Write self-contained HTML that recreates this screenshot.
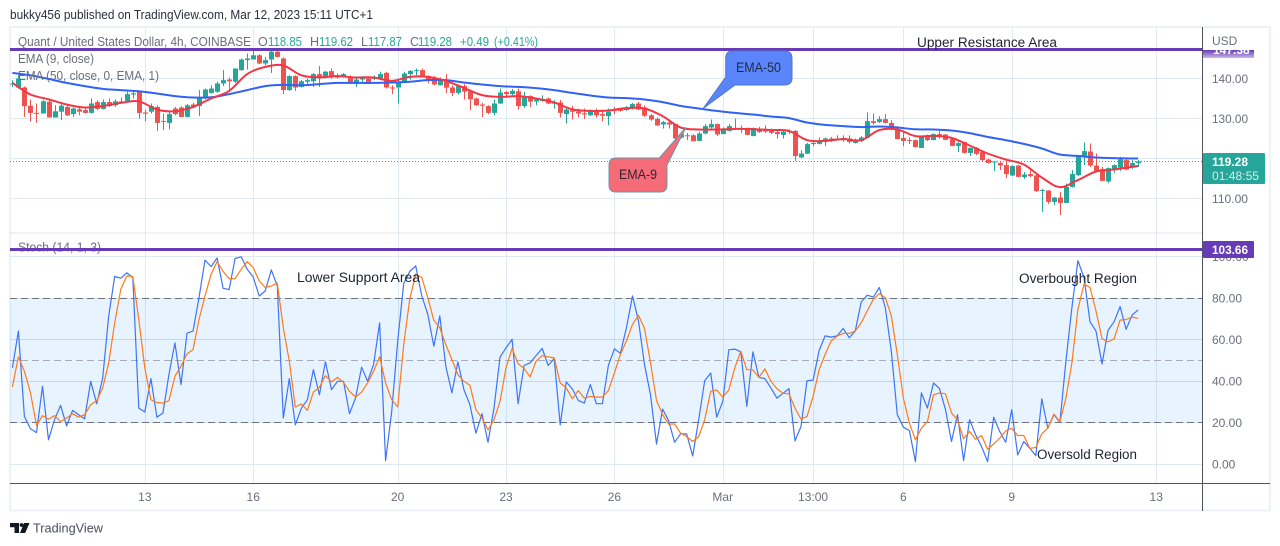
<!DOCTYPE html>
<html lang="en">
<head>
<meta charset="utf-8">
<title>Quant / United States Dollar chart</title>
<style>
html,body{margin:0;padding:0;background:#fff;width:1280px;height:546px;overflow:hidden}
svg{display:block;font-family:"Liberation Sans",sans-serif}
</style>
</head>
<body>
<svg id="chart" xmlns="http://www.w3.org/2000/svg" width="1280" height="546" viewBox="0 0 1280 546">
  <defs>
    <clipPath id="topLabelClip"><rect x="1202" y="50" width="53" height="8"/></clipPath>
    <linearGradient id="topLabelFade" x1="0" y1="0" x2="0" y2="1">
      <stop offset="0" stop-color="#673ab7"/>
      <stop offset="1" stop-color="#c9b8e6"/>
    </linearGradient>
  </defs>
  <rect x="0" y="0" width="1280" height="546" fill="#ffffff"/>
  <text x="10" y="19" font-size="12.5" fill="#2a2e39" textLength="363" lengthAdjust="spacingAndGlyphs">bukky456 published on TradingView.com, Mar 12, 2023 15:11 UTC+1</text>
  <rect x="10" y="27" width="1260" height="483.5" fill="none" stroke="#eef1f6" stroke-width="2"/>

  <g id="grid"></g>
  <rect x="10" y="232.5" width="1192" height="1" fill="#e3e6ec"/>
  <g id="stochBand"></g>
  <g id="priceLine"></g>
  <g id="candles"></g>
  <g id="emaLines"></g>
  <g id="stochLines"></g>

  <text x="18" y="46" font-size="12.5" fill="#6b6e79" textLength="233" lengthAdjust="spacingAndGlyphs">Quant / United States Dollar, 4h, COINBASE</text>
  <g font-size="12.5">
    <text x="258" y="46" fill="#6b6e79">O</text>
    <text x="268" y="46" fill="#26a69a" textLength="34" lengthAdjust="spacingAndGlyphs">118.85</text>
    <text x="310" y="46" fill="#6b6e79">H</text>
    <text x="319" y="46" fill="#26a69a" textLength="34" lengthAdjust="spacingAndGlyphs">119.62</text>
    <text x="361" y="46" fill="#6b6e79">L</text>
    <text x="368" y="46" fill="#26a69a" textLength="34" lengthAdjust="spacingAndGlyphs">117.87</text>
    <text x="410" y="46" fill="#6b6e79">C</text>
    <text x="418" y="46" fill="#26a69a" textLength="34" lengthAdjust="spacingAndGlyphs">119.28</text>
    <text x="460" y="46" fill="#26a69a" textLength="29" lengthAdjust="spacingAndGlyphs">+0.49</text>
    <text x="494" y="46" fill="#26a69a" textLength="44" lengthAdjust="spacingAndGlyphs">(+0.41%)</text>
  </g>
  <text x="18" y="63" font-size="12.5" fill="#6b6e79" textLength="76" lengthAdjust="spacingAndGlyphs">EMA (9, close)</text>
  <text x="18" y="80" font-size="12.5" fill="#6b6e79" textLength="141" lengthAdjust="spacingAndGlyphs">EMA (50, close, 0, EMA, 1)</text>
  <text x="18" y="251.5" font-size="12.5" fill="#6b6e79" textLength="83" lengthAdjust="spacingAndGlyphs">Stoch (14, 1, 3)</text>

  <rect x="10" y="48" width="1192.5" height="3" fill="#673ab7"/>
  <rect x="10" y="248" width="1192.5" height="3" fill="#673ab7"/>

  <text x="917" y="47" font-size="13.5" fill="#1f2330" textLength="140" lengthAdjust="spacingAndGlyphs">Upper Resistance Area</text>
  <text x="297" y="282" font-size="13.5" fill="#1f2330" textLength="123" lengthAdjust="spacingAndGlyphs">Lower Support Area</text>
  <text x="1019" y="283" font-size="13.5" fill="#1f2330" textLength="118" lengthAdjust="spacingAndGlyphs">Overbought Region</text>
  <text x="1037" y="459" font-size="13.5" fill="#1f2330" textLength="100" lengthAdjust="spacingAndGlyphs">Oversold Region</text>

  <g>
    <path d="M733,51 H784 Q792,51 792,58 V78 Q792,85 784,85 H735 L703.3,108.3 L725.7,77 V58 Q725.7,51 733,51 Z" fill="#5b85fb" stroke="#4b7ac4" stroke-width="1"/>
    <text x="736" y="72" font-size="13.5" fill="#1f2a44" textLength="45" lengthAdjust="spacingAndGlyphs">EMA-50</text>
  </g>
  <g>
    <path d="M616,158 H659.3 L686,127.3 L667,165 V185 Q667,192 660,192 H616 Q609,192 609,185 V165 Q609,158 616,158 Z" fill="#f66b78" stroke="#5f9aa8" stroke-width="1"/>
    <text x="619" y="179" font-size="13.5" fill="#3a2030" textLength="38" lengthAdjust="spacingAndGlyphs">EMA-9</text>
  </g>

  <rect x="1203" y="28" width="66" height="455" fill="#ffffff"/>
  <g id="axisLabels"></g>
  <rect x="1202" y="27" width="1" height="484" fill="#50535e"/>
  <rect x="10" y="483" width="1260" height="1" fill="#50535e"/>

  <text x="1212" y="45" font-size="12" fill="#6b6e79">USD</text>
  <rect x="1203" y="50" width="51" height="8" fill="url(#topLabelFade)"/>
  <text x="1213" y="54" font-size="12" font-weight="bold" fill="#ffffff" clip-path="url(#topLabelClip)">147.38</text>

  <rect x="1203" y="241" width="51" height="17" rx="1" fill="#673ab7"/>
  <text x="1212" y="254" font-size="12" font-weight="bold" fill="#ffffff" textLength="36" lengthAdjust="spacingAndGlyphs">103.66</text>

  <rect x="1203" y="153" width="62" height="31" rx="1" fill="#26a69a"/>
  <text x="1212" y="166" font-size="12" font-weight="bold" fill="#ffffff" textLength="36" lengthAdjust="spacingAndGlyphs">119.28</text>
  <text x="1212" y="180" font-size="12" fill="#d4eeeb" textLength="47" lengthAdjust="spacingAndGlyphs">01:48:55</text>

  <g>
    <path d="M10,523 H19 V533 H14.5 V527.2 H10 Z M24,523 H29.5 L25.2,533 H20 Z" fill="#131722"/>
    <circle cx="21.5" cy="525" r="1.9" fill="#131722"/>
    <text x="33" y="532.5" font-size="13" fill="#4a4e59" textLength="70" lengthAdjust="spacingAndGlyphs">TradingView</text>
  </g>
</svg>

<script>
// ---- chart data ----
const opens = [
138.58,137.75,137.75,133.2,131.4,131.25,134.2,130.25,131.7,132.9,
131.1,132.3,132.1,131.4,134.1,132.4,134.1,133.3,134.3,134.4,
136,136.7,131.5,131.7,132.9,129.4,128.9,132.5,132.75,130.4,
133.5,133.1,135,136.4,136.7,138.75,139.75,139.2,142.1,144.6,
144.75,145.8,143.75,144.75,146.7,145,137.1,140.6,137.9,139.2,
139.3,141.1,140.25,141.85,140.25,140.6,140.4,138.6,139.75,140,
139.9,140,141.4,137.75,137.75,139.2,141.1,141.85,142.1,140.6,
140,138.3,139.75,137.75,136.4,138.1,136.8,135,133.5,133.1,
131.4,133.75,136.6,136.1,136.8,133.1,135.6,134.25,134.4,135,
133.75,134,131.1,132.1,131.75,131.3,130.8,131.9,131.1,130.6,
132.25,132.25,132.1,132.7,133.75,132.75,130.8,129.9,128.5,129,
128.6,125.25,125.8,125.8,124.4,126.25,127.75,128.6,126.1,126.9,
127.6,127.6,127.6,125.6,127.4,127.4,127.1,126.6,125.9,126.9,
126.9,120.25,121.2,123.9,123.65,124.15,125,124.75,125.15,125,
123.9,124.4,125.2,129.33,129.1,129.83,128.9,127.25,125.15,124.65,
124.6,122.65,125.65,124.6,126.1,126,124.85,123.15,124.1,121.4,
122.6,121.6,119.75,119,118.9,118.35,115.75,118.25,115.35,116.1,
115.75,111.9,112,109.15,110.25,108.9,112.9,115.85,120.6,121.75,
118.25,117.35,114.25,117.1,117.75,119.6,117.75,118.85];
const highs = [
139.58,140.83,138,134.75,133.75,134.6,135,133.3,133.75,133.3,
132.75,132.9,132.75,135,134.6,134.75,135,134.8,135.25,136.7,
136.9,136.9,132.2,133.75,133.3,131.25,131.7,132.9,133.1,133.6,
133.9,137.1,137.5,138.3,139.2,142.1,140.25,142.5,145,146.25,
147.5,146.1,145.4,147.1,147.5,145.25,140.8,140.8,139.6,140,
141.4,143.1,141.9,142.5,141.25,141.4,140.8,140.25,140.6,140.4,
140.8,141.7,141.7,138.3,139.6,141.7,142.1,142.5,142.5,140.8,
140.6,140.25,141.1,138.3,138.3,138.6,137.1,135.25,133.9,133.3,
134.75,137.5,136.9,137.4,137.5,136.7,135.8,135.25,135.8,135.25,
134.6,134.6,132.9,133.1,132.5,132.5,132.25,132.5,132.1,132.5,
132.9,132.5,133.1,133.9,134.1,133.3,131.1,130.25,129.4,129.75,
128.75,126.7,126.4,126.1,126.7,128.6,129.75,128.75,127.75,128.6,
130,128.3,127.75,127.75,127.9,128.3,127.5,127.1,127.1,127.25,
127.1,122.1,123.9,124.6,125.25,125.25,125.4,125.8,125.8,125.8,
125,125.6,131.5,131.25,130.6,131.1,129.6,128.1,126.65,125.25,
124.75,125.6,126,126.25,126.85,126.1,125,124.2,124.2,122.75,
122.9,121.9,120,119.4,119.4,119.4,118.35,118.35,116.65,117.1,
115.9,112.4,112.1,110.4,111.65,113.75,117.1,120.85,124,123.75,
121.25,117.9,117.75,118.5,120.4,120,119.6,119.62];
const lows = [
137.9,137.5,130.4,129.2,128.9,131.25,130.25,130.25,129.6,130.6,
130.4,130.8,131.25,131.25,132.1,132.25,132.9,132.9,133.75,134.2,
135,130,129.3,131.25,126.9,127.1,127.25,130.8,130.25,130.25,
132.5,130.6,134.75,136.25,136.4,138.1,136.7,138.9,141.9,142.25,
144.75,143.6,143.3,141.4,145.25,136.1,136.9,136.9,137.75,138.3,
137.9,137.9,140,140,140,140.25,138.6,137.9,139.2,138.75,
139.6,139.75,137.5,136.1,133.75,138.9,139.75,140.8,140.4,138.75,
138.3,138.3,136.4,135.6,136,134.75,132.1,133.1,130.4,131.1,
130.8,133.6,135.4,135.8,132.25,132.7,132.9,133.3,134.2,133.6,
132.5,130.25,128.75,129.75,130.25,129.9,130.6,130.25,129.3,128.3,
131.1,131.7,131.9,132.25,132.1,130.4,129.4,128.1,127.5,127.5,
124.75,125,124.6,124.3,124.3,126,127.5,125.6,126.1,126.75,
127.1,126.4,125.8,125.6,126.4,126.4,126.1,125,125,126.1,
119.4,120.1,121.1,123.1,123.5,123.1,124.15,124.6,124.15,123.75,
123.75,124.15,125.2,128.5,128.9,128.75,127.1,124.75,123.1,123.6,
122.75,122.6,124.35,124.6,125,124.6,123.1,121.6,121.25,120.65,
120.85,119.4,118.75,116.85,117.1,115.1,115.6,115.35,114.9,115.25,
111.65,106.65,108.65,108.35,105.85,108.9,112.75,115.6,118.35,117.9,
116.65,114.35,113.9,116.4,116.9,117.1,117.4,117.87];
const closes = [
138.75,140,133.08,131.4,131.25,134.3,130.25,131.8,133.2,130.8,
132.5,131.7,131.4,133.75,132.4,134.1,133.1,134.3,134.1,136.1,
136.3,131.4,131.2,133.1,128.9,129.2,131.1,131.1,130.4,133.3,
132.75,135.2,137.25,137.5,138.75,139.6,139.3,142.5,144.75,145,
145.8,143.75,144.6,146.7,145.4,137.1,140.6,137.75,139.3,139.6,
141.1,140,141.7,140.25,140.8,141.1,138.75,139.75,140.25,138.9,
140.25,141.1,137.75,137.5,139.2,141.25,141.9,142.1,140.6,139.6,
138.5,139.75,137.7,136.4,138.1,136.7,134.8,133.3,133.2,131.4,
133.75,136.5,136.1,136.9,133.1,135.25,134.2,134.75,134.9,133.75,
134.1,131.4,132.25,131.7,131.25,131,131.9,130.8,130.7,131.7,
131.9,131.9,132.75,133.6,132.25,130.7,129.75,128.25,129.1,128.5,
125,126.1,125.6,124.3,126.25,128.1,128.6,126,127.5,128.1,
127.3,127.3,125.9,127.6,126.6,126.75,126.4,126.1,126.7,126.7,
120.6,121.25,123.6,123.6,124.15,125,124.6,125,124.85,124.15,
124.6,125.25,129.33,128.9,129.83,128.9,127.25,124.85,124.4,124.4,
122.85,125.4,124.6,126.1,125.4,124.65,123.15,123.85,121.4,122.65,
121.15,119.6,118.9,119.25,118.25,116.1,118.1,115.4,116,115.6,
111.85,112.15,109.15,110.25,108.9,112.9,116.1,120.75,121.85,118.25,
116.9,114.4,117.6,118.35,119.75,117.25,118.85,119.28];

// EMA readings taken every third bar, final reading on the last bar
const emaStep = 3;
const ema50 = [
141.4,140.8,139.9,138.9,138.1,137.4,137.1,136.8,136.25,135.6,135.25,135.3,
136.1,137.1,138.1,138.4,138.3,138.6,138.9,138.9,138.9,139,139.2,139.6,
139.6,139,138.5,138.1,137.9,137.6,137.1,136.4,135.75,135.25,135.1,134.75,
134.1,133.15,132.5,131.9,131.4,131,130.5,130.1,129,128.4,128.1,
127.85,128,127.75,127.3,127.25,127,126.35,125.4,124.6,123.65,122.5,121,
120.65,120.25,120.1,120,120];
const ema9 = [
138.9,136,134.8,133.5,132.75,133.1,133.9,134.3,132.25,131.8,132.9,135,
136.9,141.1,142.9,143.25,140.8,140.3,140.6,140.25,140.25,139.4,140.4,140.4,
139.4,137.65,135.85,135.4,135.6,135,134,132.3,131.9,132,132.6,132.5,
130.6,127.75,127.25,127.25,127.4,127.35,127.1,126.9,124.6,124.4,124.85,
124.6,127.1,127.25,125.6,125.65,125.15,123.25,121.25,119.75,118.5,115.25,112.85,
114.6,116.75,117.25,117.9,118.15];
const lastPrice = 119.28;

const stochK = [
46.5,64.2,23.1,17.1,15.3,37.6,11.8,21.5,28.4,18.5,
26,23.9,21.9,40,29.2,41.6,71.5,90.5,89.7,92.3,
90,27.1,25.2,41.3,22.7,24.7,43.2,58.5,38.4,63.2,
64.2,80.3,98.4,95.3,99.4,84.8,84.2,99.2,100,94,
90.3,81.1,83.5,93.7,86,22.3,41.3,19,27.1,31.1,
45.6,33.5,49.4,36,40,40,24.4,31.9,46.8,40,
48.1,68.2,1.8,25.5,59.4,87.1,92.9,95.6,81.1,72.3,
56.9,71.5,47.3,34.4,49.4,36,28.7,15,24.4,10.6,
27.1,51.6,56.1,60.2,29.2,47.6,48.9,52.4,55.8,47.6,
51,19,39.7,36.3,30.8,29.5,38.4,29.2,29.2,47.7,
55.6,53.5,65.8,81.1,69,48.1,33.5,9.8,26.6,21,
10.6,14.7,14.7,4,21.5,40.3,44,22.7,30.3,55.2,
55.5,54.2,27.9,54.2,41.9,41.3,36.8,31.9,34.2,36.5,
11.3,18.2,40.3,40.6,54.8,61.9,61.3,61.9,65.5,61,
64.2,78.2,81.5,80.6,85.2,75.5,54.5,23.9,17.9,16.3,
1.3,34.4,27.1,39.2,36.5,26.3,11,23.9,1.8,21.5,
14.2,8.5,1.3,22.7,15.8,10.6,26.3,4.5,11,7.7,
4.2,31.5,17.4,23.9,20.3,49.7,75.5,98.1,90,68.7,
64.2,48.4,64.5,68.7,76,65,71.9,74.4];
const stochD = [
37.3,51.8,44.8,34.4,18.7,23.4,21.8,23.4,20.6,22.3,
24.4,22.7,23.9,28.7,30.6,36.8,48.9,68.2,84.4,90.8,
90.5,69.8,46.5,31.1,29.8,29.5,30.6,42.4,47.3,53.2,
55.3,69.8,81.1,91.6,97.7,92.9,89.5,89.5,94,97.7,
94.8,88.4,85.2,86,87.3,65.8,49.7,27.6,29,26,
34.8,37.1,42.7,39.7,41.9,39.5,35.2,32.4,34.8,39.2,
44.8,51.8,39.2,31.1,27.6,57.7,79.5,91.6,90,80.3,
69.4,65.8,57.7,50.5,43.2,40,38.1,26.3,22.3,16.6,
21.5,30.3,46.5,55.8,48.5,46.1,42.1,49.7,52.4,51.8,
51.3,39.2,36.8,31.6,35.5,31.9,32.7,32.4,32.4,35.5,
44,52.9,59.4,67.4,71.8,65.5,48.9,30.8,23.9,19.4,
19.4,15,13.4,11,13.4,21.5,35.2,35.8,32.3,35.8,
46.5,54.5,45.6,45.5,41.9,46,40,36.5,34.2,34,
27.1,21.8,23.1,32.7,45.6,52.9,59.4,61.8,63.1,63.1,
64.2,68.2,73.9,79.5,82.3,80.3,71.5,52.9,31.9,19.8,
11.8,17.4,20.6,33.5,34.4,34,24.7,21.5,12.3,15.8,
12.1,13.9,7.3,9.8,12.6,16.1,17.4,13.9,13.9,7.7,
8.1,14.7,17.4,24.2,20.6,31.9,48.9,74.7,86.8,85.2,
73.9,60.6,59,60.5,69.5,69.8,71,70.3];

const priceTicks = [140, 130, 120, 110];
const stochTicks = [100, 80, 60, 40, 20, 0];
const stochDashed = [80, 50, 20];
const stochBandLimits = [80, 20];
const timeTickLabels = ['13','16','20','23','26','Mar','13:00','6','9','13'];
const timeTickBars = [22,40,64,82,100,118,133,148,166,190];

// ---- axis functions ----
function xOf(bar){ return 12.4 + 6.02 * bar; }
function priceY(p){ return 78.5 + (140 - p) * 4; }
function stochY(v){ return 464.3 - v * 2.075; }
function tickFmt(v){ return v.toFixed(2); }

const NS = 'http://www.w3.org/2000/svg';
function make(tag, attrs, parent){
  const el = document.createElementNS(NS, tag);
  for (const k in attrs) el.setAttribute(k, attrs[k]);
  parent.appendChild(el);
  return el;
}

const grid = document.getElementById('grid');
const band = document.getElementById('stochBand');
const priceLineG = document.getElementById('priceLine');
const candlesG = document.getElementById('candles');
const emaG = document.getElementById('emaLines');
const stochG = document.getElementById('stochLines');
const labelsG = document.getElementById('axisLabels');

// vertical grid + time labels
timeTickBars.forEach(function(bar, i){
  const x = Math.round(xOf(bar)) + 0.5;
  const v = make('line', {x1:x, x2:x, y1:28, y2:483, stroke:'#e0eaf2', 'stroke-width':1}, grid);
  
  
  const t = make('text', {x:xOf(bar), y:501, 'font-size':12, fill:'#6b6e79', 'text-anchor':'middle'}, labelsG);
  t.textContent = timeTickLabels[i];
  
  
});

// price grid + labels
priceTicks.forEach(function(p){
  const y = Math.floor(priceY(p)) + 0.5;
  const h = make('line', {x1:10, x2:1202, y1:y, y2:y, stroke:'#e0eaf2', 'stroke-width':1}, grid);
  
  
  const t = make('text', {x:1212, y:priceY(p) + 4.3, 'font-size':12, fill:'#6b6e79', textLength:36, lengthAdjust:'spacingAndGlyphs'}, labelsG);
  t.textContent = tickFmt(p);
  
  
});

// stochastic grid + labels
stochTicks.forEach(function(v){
  const y = Math.floor(stochY(v)) + 0.5;
  const inBand = v < stochBandLimits[0] && v > stochBandLimits[1];
  const h = make('line', {x1:10, x2:1202, y1:y, y2:y, stroke: inBand ? '#cfe2f0' : '#e0eaf2', 'stroke-width':1}, grid);
  
  
  const label = tickFmt(v);
  const t = make('text', {x:1212, y:stochY(v) + 4, 'font-size':12, fill:'#6b6e79'}, labelsG);
  t.textContent = label;
  
  
});

// stochastic band
const bandTop = stochY(stochBandLimits[0]);
const bandBottom = stochY(stochBandLimits[1]);
const bandRect = make('rect', {x:10, y:bandTop, width:1192, height:bandBottom - bandTop, fill:'#2196f3', 'fill-opacity':0.11}, band);


stochDashed.forEach(function(v){
  const y = Math.floor(stochY(v)) + 0.5;
  const d = make('line', {x1:10, x2:1202, y1:y, y2:y, stroke: v === 50 ? '#a9acb5' : '#6f727c', 'stroke-width':1, 'stroke-dasharray':'7 4'}, band);
  
  
});

// last price dotted line
const lastY = Math.floor(priceY(lastPrice)) + 0.5;
const dotted = make('line', {x1:10, x2:1202, y1:lastY, y2:lastY, stroke:'#26a69a', 'stroke-width':1, 'stroke-dasharray':'1 2'}, priceLineG);



// candles
closes.forEach(function(c, i){
  const up = c >= opens[i];
  const color = up ? '#26a69a' : '#ef5350';
  const x = Math.round(xOf(i));
  const wick = make('rect', {x:x, y:priceY(highs[i]), width:1, height:Math.max(1, priceY(lows[i]) - priceY(highs[i])), fill:color}, candlesG);
  
  
  const top = priceY(Math.max(opens[i], c));
  const bot = priceY(Math.min(opens[i], c));
  const body = make('rect', {x:x - 2, y:top, width:5, height:Math.max(1, bot - top), fill:color}, candlesG);
  
  
});

// EMA lines, drawn as smooth curves through the readings
function emaBar(i){ return Math.min(i * emaStep, closes.length - 1); }
function emaPath(series){
  const pts = series.map(function(v, i){ return [xOf(emaBar(i)), priceY(v)]; });
  let d = 'M' + pts[0][0].toFixed(1) + ',' + pts[0][1].toFixed(1);
  for (let i = 0; i < pts.length - 1; i++) {
    const p0 = pts[Math.max(i - 1, 0)];
    const p1 = pts[i];
    const p2 = pts[i + 1];
    const p3 = pts[Math.min(i + 2, pts.length - 1)];
    const c1x = p1[0] + (p2[0] - p0[0]) / 6;
    const c1y = p1[1] + (p2[1] - p0[1]) / 6;
    const c2x = p2[0] - (p3[0] - p1[0]) / 6;
    const c2y = p2[1] - (p3[1] - p1[1]) / 6;
    d += ' C' + c1x.toFixed(1) + ',' + c1y.toFixed(1) + ' ' + c2x.toFixed(1) + ',' + c2y.toFixed(1) + ' ' + p2[0].toFixed(1) + ',' + p2[1].toFixed(1);
  }
  return d;
}
const ema50Line = make('path', {d:emaPath(ema50), fill:'none', stroke:'#2f62f5', 'stroke-width':2, 'stroke-linejoin':'round'}, emaG);


const ema9Line = make('path', {d:emaPath(ema9), fill:'none', stroke:'#f23645', 'stroke-width':2, 'stroke-linejoin':'round'}, emaG);



// stochastic lines
function stochPoints(series){
  return series.map(function(v, i){ return xOf(i).toFixed(1) + ',' + stochY(v).toFixed(1); }).join(' ');
}
const kLine = make('polyline', {points:stochPoints(stochK), fill:'none', stroke:'#3f74f6', 'stroke-width':1.2, 'stroke-linejoin':'round'}, stochG);


const dLine = make('polyline', {points:stochPoints(stochD), fill:'none', stroke:'#ff7a1a', 'stroke-width':1.2, 'stroke-linejoin':'round'}, stochG);


</script>
</body>
</html>
